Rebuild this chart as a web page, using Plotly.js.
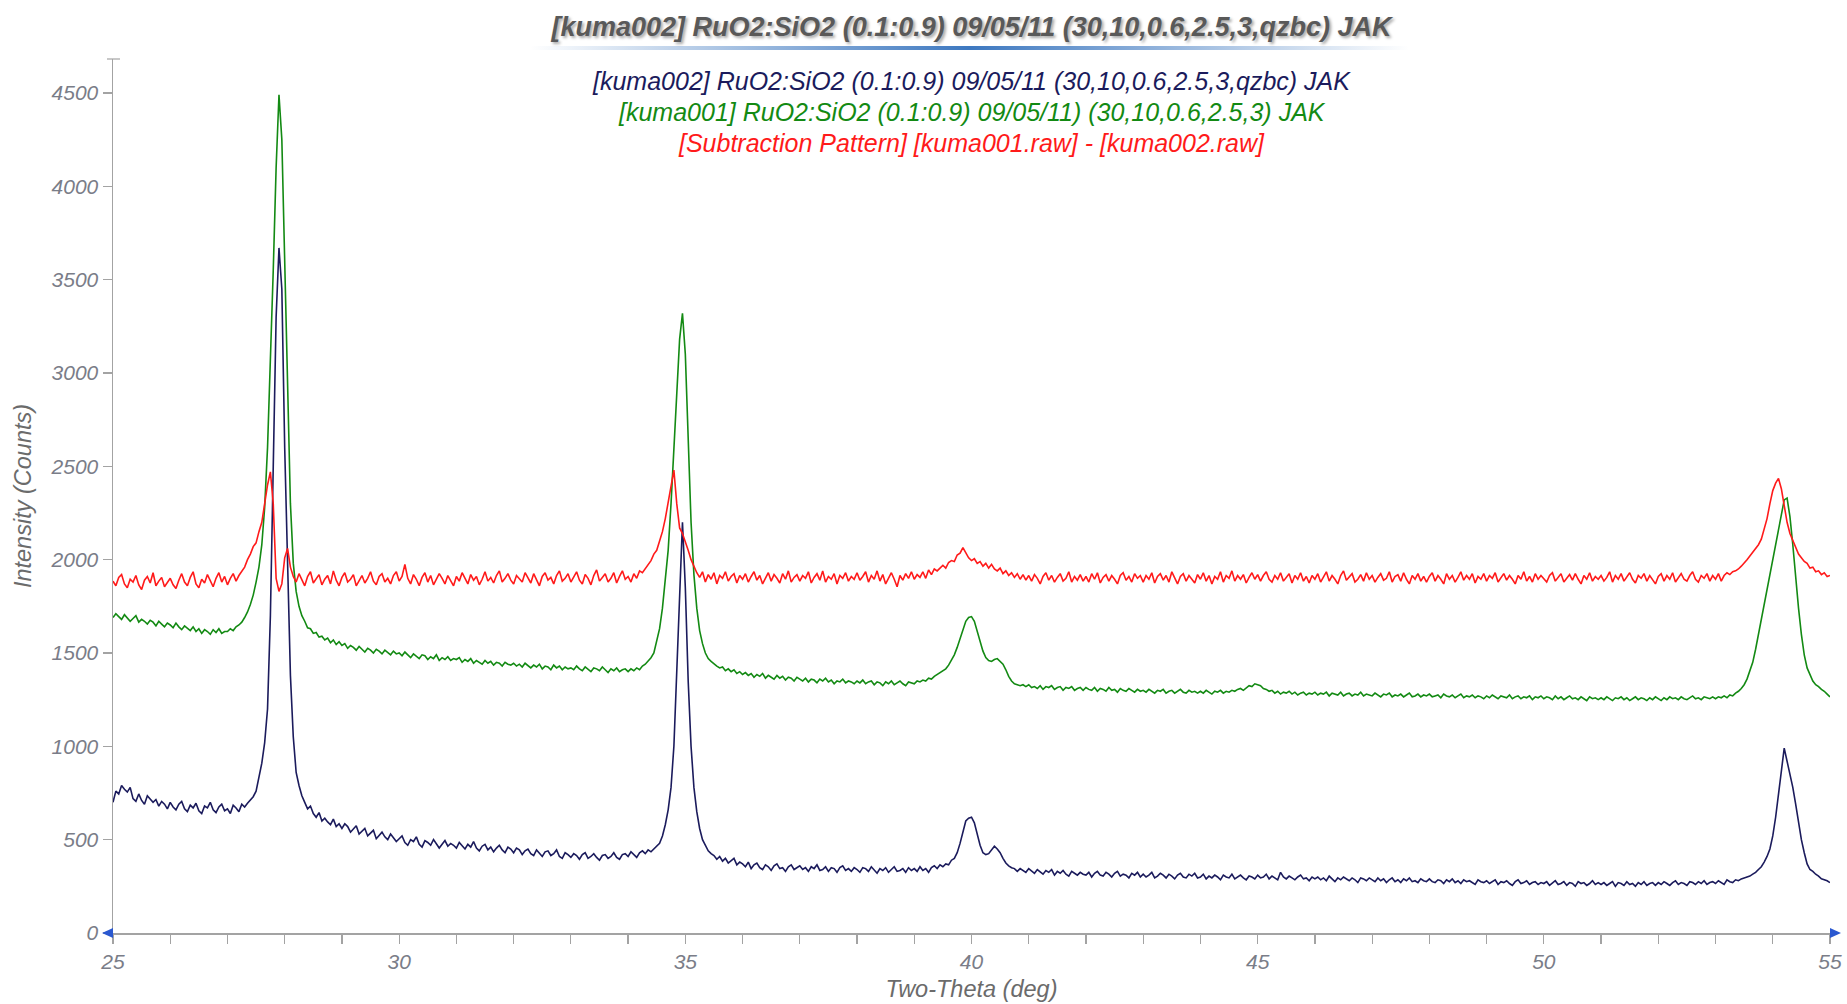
<!DOCTYPE html>
<html>
<head>
<meta charset="utf-8">
<script src="https://cdn.plot.ly/plotly-3.0.1.min.js"></script>
<style>html,body{margin:0;padding:0;background:#fff;}#chart{width:1847px;height:1004px;}</style>
</head>
<body>
<div id="chart"></div>
<script>
// Two-Theta grid: 25.00 .. 55.00 deg, 0.05 deg step (one row = one degree)
const twoThetaStart = 25;
const twoThetaStep = 0.05;

// [kuma002] (navy) intensity, counts
const kuma002 = [
  700,760,745,790,770,755,780,720,705,745,710,690,735,720,700,715,680,705,690,665,
  700,675,660,690,705,665,650,685,670,695,655,640,680,670,700,660,645,675,690,655,
  665,640,685,670,650,690,675,695,710,730,760,830,910,1020,1200,1700,2500,3300,3670,3450,
  2600,1900,1380,1050,860,790,735,700,665,680,640,620,645,600,615,595,580,610,570,585,
  560,585,570,540,555,575,530,545,560,520,535,550,505,525,540,515,500,530,510,490,
  505,520,485,470,500,490,515,475,460,495,485,470,500,480,455,475,495,465,480,470,
  455,485,470,450,475,460,490,455,440,465,475,445,460,435,455,470,445,430,460,450,
  430,455,445,420,440,450,425,415,445,430,410,435,440,415,425,445,410,400,430,420,
  405,425,415,395,420,430,400,410,425,405,390,415,420,400,410,430,405,395,420,425,
  410,435,420,405,430,440,425,445,435,450,460,480,520,580,660,780,1000,1400,1900,2200,
  1850,1350,1000,780,650,560,500,465,440,425,415,395,410,385,400,375,390,400,365,380,
  370,355,380,345,365,375,350,340,365,355,335,360,370,345,350,330,355,365,340,350,
  360,340,350,330,355,345,365,335,340,355,330,350,345,325,350,360,335,345,330,350,
  340,325,350,345,330,355,340,320,345,335,350,325,340,355,330,335,345,325,350,335,
  345,330,355,335,345,325,350,360,345,365,355,370,365,390,400,430,480,540,600,615,
  620,590,530,470,430,420,425,445,465,450,430,400,375,360,350,345,330,345,335,325,
  345,330,320,340,325,315,335,325,340,310,330,320,335,315,305,330,320,310,325,315,
  310,325,300,320,330,310,305,325,315,300,320,330,305,315,310,295,320,310,325,300,
  315,300,310,325,295,305,320,310,295,315,305,290,310,320,300,295,315,305,320,295,
  300,315,290,305,295,310,300,285,310,300,295,315,290,300,310,295,285,305,300,290,
  310,295,300,315,290,305,295,285,325,300,290,305,295,285,300,310,290,295,280,300,
  290,300,285,295,280,305,290,275,295,285,300,290,280,295,285,270,295,290,280,295,
  285,275,295,280,290,270,285,295,275,285,270,290,280,295,275,280,270,290,280,275,
  290,275,270,285,280,265,285,275,290,270,280,265,285,275,280,270,260,285,275,270,
  280,265,275,285,260,275,270,280,265,255,275,285,265,270,280,260,270,275,260,270,
  265,275,255,270,280,260,265,275,255,270,265,250,275,265,270,255,265,280,260,270,
  260,270,255,265,275,250,270,265,255,275,260,265,250,270,260,275,255,265,270,255,
  270,260,275,265,255,270,280,260,270,265,255,275,270,260,275,265,280,260,270,275,
  265,280,270,260,285,275,270,285,280,290,295,300,305,315,325,340,355,380,410,450,
  520,620,740,880,990,920,850,780,690,590,500,430,370,340,330,315,305,290,285,280,
  270
];

// [kuma001] (green) intensity, counts
const kuma001 = [
  1690,1710,1695,1680,1705,1690,1670,1685,1700,1665,1680,1670,1655,1675,1665,1645,1670,1655,1640,1660,
  1650,1635,1660,1640,1625,1645,1630,1620,1640,1615,1630,1605,1625,1615,1600,1625,1610,1630,1605,1615,
  1615,1630,1620,1640,1650,1665,1690,1720,1760,1810,1880,1960,2080,2280,2600,3050,3550,4100,4490,4250,
  3550,2850,2300,1980,1830,1750,1700,1670,1635,1630,1605,1610,1585,1590,1570,1580,1555,1570,1545,1560,
  1540,1550,1525,1540,1530,1515,1535,1520,1505,1525,1515,1500,1520,1510,1495,1515,1500,1490,1510,1495,
  1500,1485,1505,1490,1475,1495,1480,1470,1490,1485,1465,1480,1470,1490,1460,1475,1465,1480,1460,1470,
  1465,1475,1450,1465,1455,1470,1445,1460,1450,1440,1460,1445,1455,1435,1450,1445,1430,1450,1440,1435,
  1445,1430,1440,1425,1445,1430,1420,1435,1425,1440,1415,1430,1425,1410,1435,1420,1430,1410,1425,1415,
  1420,1410,1430,1415,1405,1425,1410,1400,1420,1415,1405,1425,1410,1395,1415,1405,1420,1400,1410,1415,
  1400,1415,1405,1420,1410,1430,1440,1455,1475,1500,1560,1630,1740,1880,2050,2300,2580,2880,3180,3320,
  3100,2650,2200,1920,1740,1620,1550,1500,1470,1455,1440,1430,1420,1425,1405,1415,1400,1410,1390,1400,
  1385,1395,1380,1390,1370,1385,1375,1390,1365,1380,1370,1360,1380,1365,1375,1355,1370,1365,1350,1370,
  1360,1350,1365,1345,1360,1355,1340,1360,1350,1365,1345,1355,1335,1350,1345,1360,1340,1350,1345,1335,
  1350,1340,1355,1335,1345,1350,1330,1345,1340,1325,1345,1335,1350,1330,1340,1350,1335,1325,1345,1340,
  1335,1350,1345,1355,1350,1365,1360,1375,1385,1395,1405,1415,1435,1460,1490,1530,1575,1630,1670,1690,
  1695,1670,1620,1565,1510,1475,1460,1455,1465,1470,1455,1440,1410,1375,1350,1335,1330,1325,1330,1320,
  1330,1315,1320,1310,1325,1305,1320,1315,1325,1305,1315,1320,1300,1315,1310,1320,1300,1310,1315,1300,
  1315,1305,1300,1315,1295,1310,1305,1295,1315,1300,1305,1290,1310,1300,1295,1310,1300,1290,1305,1295,
  1300,1290,1305,1295,1285,1300,1295,1305,1285,1295,1300,1285,1295,1305,1290,1285,1300,1290,1295,1285,
  1295,1285,1300,1290,1280,1295,1290,1300,1285,1295,1290,1300,1295,1305,1310,1300,1315,1325,1320,1335,
  1330,1325,1310,1305,1295,1300,1285,1295,1280,1290,1285,1295,1280,1290,1275,1285,1290,1275,1285,1280,
  1290,1275,1285,1280,1290,1270,1285,1280,1275,1290,1270,1280,1285,1270,1280,1275,1290,1270,1280,1275,
  1270,1285,1275,1265,1280,1275,1285,1265,1275,1270,1280,1265,1275,1285,1265,1270,1280,1265,1275,1270,
  1280,1265,1270,1275,1260,1280,1270,1265,1275,1260,1270,1280,1260,1270,1265,1275,1260,1270,1265,1255,
  1270,1260,1275,1265,1255,1270,1265,1260,1275,1255,1265,1270,1255,1265,1260,1270,1250,1265,1260,1270,
  1255,1265,1260,1250,1270,1255,1265,1250,1260,1270,1255,1260,1250,1265,1255,1245,1265,1255,1260,1250,
  1260,1250,1265,1255,1245,1260,1255,1265,1250,1260,1245,1255,1265,1250,1260,1255,1245,1260,1250,1265,
  1255,1245,1260,1250,1265,1255,1260,1250,1265,1255,1250,1260,1270,1255,1260,1250,1265,1260,1255,1265,
  1255,1265,1260,1270,1260,1275,1270,1285,1295,1310,1330,1360,1400,1450,1520,1600,1680,1760,1840,1930,
  2010,2090,2170,2250,2320,2330,2230,2080,1900,1740,1600,1490,1420,1380,1350,1330,1320,1305,1295,1280,
  1265
];

// [Subtraction Pattern] (red) intensity, counts
const subtraction = [
  1885,1860,1905,1920,1870,1850,1895,1880,1915,1865,1840,1890,1910,1875,1930,1860,1885,1905,1855,1880,
  1900,1865,1845,1890,1925,1880,1860,1905,1935,1870,1850,1895,1875,1920,1885,1855,1900,1930,1880,1910,
  1865,1900,1925,1885,1915,1935,1960,2000,2030,2070,2090,2150,2200,2300,2400,2470,2300,1900,1830,1870,
  2010,2060,1960,1910,1880,1925,1895,1860,1910,1935,1875,1900,1920,1865,1895,1915,1870,1940,1890,1860,
  1905,1930,1880,1895,1920,1860,1890,1915,1875,1900,1935,1885,1865,1910,1925,1880,1900,1870,1915,1935,
  1885,1910,1975,1900,1870,1920,1895,1860,1905,1930,1880,1915,1865,1895,1925,1900,1870,1915,1890,1860,
  1910,1885,1930,1900,1870,1920,1890,1910,1865,1895,1935,1885,1905,1875,1915,1940,1880,1900,1925,1890,
  1870,1915,1895,1880,1930,1905,1875,1925,1895,1860,1910,1930,1890,1905,1870,1915,1940,1885,1900,1925,
  1880,1905,1935,1890,1870,1920,1900,1865,1915,1945,1885,1905,1925,1880,1900,1930,1875,1910,1940,1895,
  1910,1880,1925,1900,1940,1930,1950,1970,1995,2030,2050,2100,2150,2220,2310,2410,2480,2300,2170,2140,
  2100,2050,2000,1960,1930,1905,1935,1880,1920,1895,1930,1870,1915,1900,1935,1885,1910,1925,1875,1915,
  1895,1925,1880,1910,1935,1890,1915,1870,1905,1930,1885,1920,1900,1875,1925,1895,1940,1880,1905,1920,
  1885,1915,1900,1935,1875,1905,1925,1890,1940,1880,1910,1895,1925,1870,1915,1900,1930,1885,1910,1895,
  1930,1890,1910,1935,1880,1915,1895,1940,1885,1920,1870,1905,1930,1895,1855,1915,1890,1925,1900,1935,
  1895,1920,1905,1935,1900,1945,1920,1950,1940,1955,1970,1955,1985,1995,1990,2025,2035,2065,2040,2010,
  1995,2005,1980,1990,1965,1980,1955,1975,1950,1940,1955,1925,1940,1915,1930,1905,1925,1895,1920,1890,
  1915,1885,1920,1900,1870,1910,1930,1890,1915,1880,1905,1925,1885,1900,1935,1880,1910,1890,1920,1885,
  1910,1880,1925,1895,1930,1875,1905,1920,1885,1915,1895,1870,1915,1930,1890,1910,1880,1925,1900,1915,
  1880,1915,1895,1930,1875,1910,1925,1890,1915,1880,1935,1900,1870,1910,1925,1885,1915,1895,1875,1920,
  1895,1930,1885,1915,1870,1910,1895,1935,1880,1915,1900,1940,1885,1915,1895,1920,1875,1905,1930,1895,
  1920,1885,1915,1935,1895,1880,1915,1895,1930,1885,1905,1925,1875,1915,1895,1930,1885,1910,1875,1915,
  1895,1925,1880,1905,1935,1885,1915,1895,1870,1915,1940,1890,1905,1925,1880,1895,1920,1885,1930,1895,
  1915,1880,1905,1925,1890,1900,1935,1880,1910,1920,1885,1930,1895,1870,1915,1895,1925,1885,1910,1880,
  1910,1930,1885,1915,1895,1870,1925,1895,1915,1880,1905,1935,1890,1915,1895,1925,1875,1910,1895,1925,
  1885,1915,1900,1930,1880,1905,1925,1890,1915,1895,1870,1915,1895,1935,1885,1910,1880,1925,1895,1915,
  1895,1880,1915,1930,1885,1905,1925,1880,1900,1920,1890,1925,1895,1870,1915,1895,1930,1885,1910,1895,
  1915,1885,1905,1935,1880,1915,1895,1925,1885,1910,1930,1895,1875,1915,1900,1925,1885,1915,1895,1870,
  1910,1925,1885,1915,1895,1930,1880,1905,1925,1895,1885,1915,1935,1895,1880,1915,1900,1925,1885,1915,
  1895,1925,1885,1915,1930,1920,1935,1940,1950,1965,1980,2000,2020,2040,2060,2080,2110,2160,2220,2300,
  2370,2410,2435,2380,2290,2200,2140,2100,2060,2030,2010,1990,1980,1955,1960,1935,1940,1920,1930,1910,
  1915
];

const seriesNames = [
  "[kuma002] RuO2:SiO2 (0.1:0.9) 09/05/11 (30,10,0.6,2.5,3,qzbc) JAK",
  "[kuma001] RuO2:SiO2 (0.1:0.9) 09/05/11) (30,10,0.6,2.5,3) JAK",
  "[Subtraction Pattern] [kuma001.raw] - [kuma002.raw]"
];
const chartTitle = "[kuma002] RuO2:SiO2 (0.1:0.9) 09/05/11 (30,10,0.6,2.5,3,qzbc) JAK";
const xTitle = "Two-Theta (deg)";
const yTitle = "Intensity (Counts)";

const colors = ["#1b1b5c", "#138a13", "#ff1a1a"];
const twoTheta = kuma002.map((_, i) => +(twoThetaStart + i * twoThetaStep).toFixed(2));

const traces = [kuma002, kuma001, subtraction].map((ys, k) => ({
  type: "scatter", mode: "lines", x: twoTheta, y: ys, name: seriesNames[k],
  line: {color: colors[k], width: 1.6}, hoverinfo: "skip"
}));

const FONT = "Liberation Sans, Arial, sans-serif";
const tickFont = {family: FONT, size: 21, color: "#7a7d88", style: "italic"};
const axisGray = "#a3a3a3";

const gradSvg = '<svg xmlns="http://www.w3.org/2000/svg" width="400" height="4" preserveAspectRatio="none">' +
  '<defs><linearGradient id="g" x1="0" x2="1" y1="0" y2="0">' +
  '<stop offset="0" stop-color="#3d78c0" stop-opacity="0"/>' +
  '<stop offset="0.5" stop-color="#3d78c0" stop-opacity="1"/>' +
  '<stop offset="1" stop-color="#3d78c0" stop-opacity="0"/>' +
  '</linearGradient></defs><rect width="400" height="4" fill="url(#g)"/></svg>';

const layout = {
  width: 1847, height: 1004,
  margin: {l: 113, r: 17, t: 59, b: 71, pad: 0},
  paper_bgcolor: "#fff", plot_bgcolor: "#fff",
  showlegend: false,
  title: {
    text: chartTitle, xref: "paper", x: 0.5, xanchor: "center",
    yref: "container", y: 0.974, yanchor: "middle",
    font: {family: FONT, size: 27, weight: "bold", style: "italic", color: "#595959",
           shadow: "2px 2px 3px rgba(0,0,0,0.35)"}
  },
  xaxis: {
    range: [25, 55], tick0: 25, dtick: 5, ticks: "outside", ticklen: 9, tickwidth: 1.2,
    tickcolor: axisGray, showline: true, linecolor: axisGray, linewidth: 1.5,
    showgrid: false, zeroline: false, tickfont: tickFont,
    minor: {dtick: 1, ticks: "outside", ticklen: 9, tickwidth: 1.2, tickcolor: axisGray, showgrid: false},
    title: {text: xTitle, standoff: 9, font: {family: FONT, size: 23.5, color: "#6b6b6b", style: "italic"}}
  },
  yaxis: {
    range: [0, 4682], tick0: 0, dtick: 500, ticks: "outside", ticklen: 9, tickwidth: 1.2,
    tickcolor: axisGray, showline: true, linecolor: axisGray, linewidth: 1.5,
    showgrid: false, zeroline: false, tickfont: tickFont,
    title: {text: yTitle, standoff: 12, font: {family: FONT, size: 23.5, color: "#6b6b6b", style: "italic"}}
  },
  annotations: seriesNames.map((t, k) => ({
    text: t, xref: "paper", yref: "paper", x: 0.5, y: [0.9748, 0.9394, 0.9039][k],
    xanchor: "center", yanchor: "middle", showarrow: false,
    font: {family: FONT, size: 25, color: colors[k], style: "italic"}
  })),
  images: [{
    source: "data:image/svg+xml;charset=utf-8," + encodeURIComponent(gradSvg),
    xref: "paper", yref: "paper", x: 0.2429, y: 1.0149, sizex: 0.512, sizey: 0.0046,
    xanchor: "left", yanchor: "top", sizing: "stretch", layer: "above"
  }],
  shapes: [
    {type: "path", xref: "paper", yref: "paper", xsizemode: "pixel", ysizemode: "pixel",
     xanchor: 0, yanchor: 0, path: "M -11,0 L 0,5 L 0,-5 Z", fillcolor: "#2a58d0", line: {width: 0}},
    {type: "path", xref: "paper", yref: "paper", xsizemode: "pixel", ysizemode: "pixel",
     xanchor: 1, yanchor: 0, path: "M 11,0 L 0,5 L 0,-5 Z", fillcolor: "#2a58d0", line: {width: 0}},
    {type: "line", xref: "paper", yref: "paper", xsizemode: "pixel", ysizemode: "pixel",
     xanchor: 0, yanchor: 1, x0: -6, x1: 7, y0: 0, y1: 0, line: {color: axisGray, width: 1.2}}
  ]
};

Plotly.newPlot("chart", traces, layout, {displayModeBar: false, staticPlot: true});
</script>
</body>
</html>
